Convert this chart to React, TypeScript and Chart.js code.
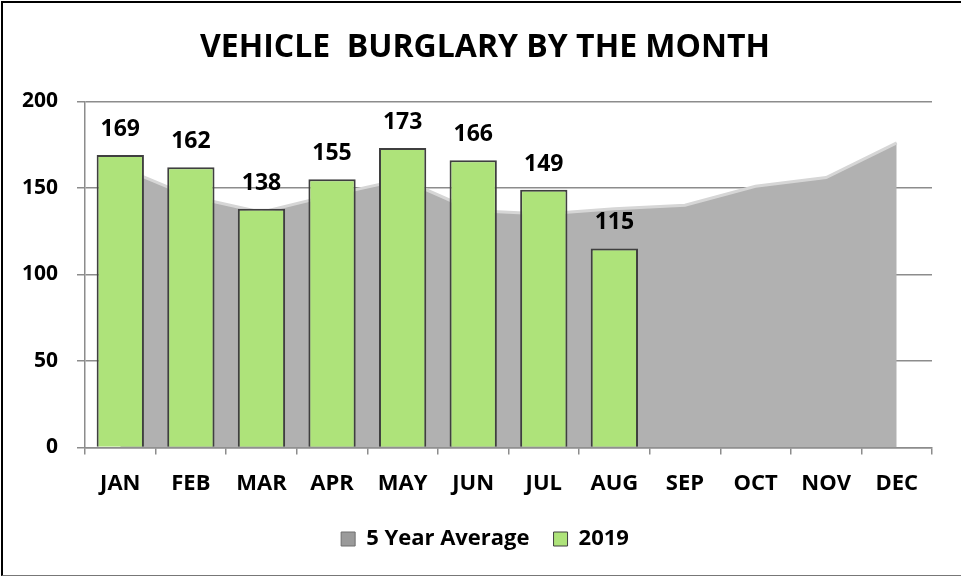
import React, { useEffect, useRef } from 'react';
import { Chart, registerables } from 'chart.js';

Chart.register(...registerables);

const months = ['JAN', 'FEB', 'MAR', 'APR', 'MAY', 'JUN', 'JUL', 'AUG', 'SEP', 'OCT', 'NOV', 'DEC'];
const fiveYearAverage = [162, 145, 136, 146, 155, 137, 135, 138, 140, 151, 156, 176];
const values2019 = [169, 162, 138, 155, 173, 166, 149, 115];
const yMin = 0;
const yMax = 200;
const yStep = 50;
const titleText = 'VEHICLE  BURGLARY BY THE MONTH';
const seriesNames = ['5 Year Average', '2019'];

const FONT = '"Open Sans", Lato, sans-serif';
const GRID = '#8c8c8c';

const barLabels = {
  id: 'barLabels',
  afterDatasetsDraw(chart: any) {
    const ctx = chart.ctx;
    const meta = chart.getDatasetMeta(1);
    ctx.save();
    ctx.font = `bold 23px ${FONT}`;
    ctx.fillStyle = '#000';
    ctx.textAlign = 'center';
    ctx.textBaseline = 'alphabetic';
    meta.data.forEach((bar: any, i: number) => {
      const v = values2019[i];
      if (v == null) return;
      ctx.fillText(String(v), bar.x, bar.y - 19);
    });
    ctx.restore();
  },
};

export default function App() {
  const ref = useRef<HTMLCanvasElement | null>(null);

  useEffect(() => {
    if (!ref.current) return;
    const chart = new Chart(ref.current, {
      type: 'bar',
      data: {
        labels: months,
        datasets: [
          {
            type: 'line',
            label: seriesNames[0],
            data: fiveYearAverage,
            fill: 'origin',
            backgroundColor: '#b1b1b1',
            borderColor: '#d6d6d6',
            borderWidth: 3,
            pointRadius: 0,
            tension: 0,
            order: 2,
          } as any,
          {
            type: 'bar',
            label: seriesNames[1],
            data: values2019,
            backgroundColor: '#aee37a',
            borderColor: '#3f3f3f',
            borderWidth: 2,
            barPercentage: 0.67,
            categoryPercentage: 1,
            order: 1,
          },
        ],
      },
      options: {
        responsive: false,
        animation: false,
        layout: { padding: { left: 9, right: 0, top: 29, bottom: 18 } },
        plugins: {
          tooltip: { enabled: false },
          title: {
            display: true,
            text: titleText,
            color: '#000',
            font: { family: FONT, size: 32, weight: 'bold' },
            padding: { top: 0, bottom: 34 },
          },
          legend: {
            position: 'bottom',
            labels: {
              color: '#000',
              font: { family: FONT, size: 22, weight: 'bold' },
              boxWidth: 14,
              boxHeight: 14,
              padding: 24,
              sort: (a: any, b: any) => a.datasetIndex - b.datasetIndex,
              generateLabels: (chart: any) => {
                const items = Chart.defaults.plugins.legend.labels.generateLabels(chart);
                return items.map((it: any) => {
                  if (it.datasetIndex === 0) {
                    return { ...it, fillStyle: '#9a9a9a', strokeStyle: '#6e6e6e', lineWidth: 1 };
                  }
                  return { ...it, fillStyle: '#aee37a', strokeStyle: '#3f3f3f', lineWidth: 1 };
                });
              },
            },
          },
        },
        scales: {
          x: {
            offset: true,
            afterFit: (scale: any) => {
              scale.height = 56.5;
            },
            grid: {
              display: true,
              offset: true,
              drawOnChartArea: false,
              drawTicks: true,
              tickLength: 7,
              color: GRID,
              lineWidth: 1.5,
            },
            border: { display: true, color: GRID, width: 1.5 },
            ticks: {
              color: '#000',
              padding: 16,
              font: { family: FONT, size: 22, weight: 'bold' },
              maxRotation: 0,
            },
          },
          y: {
            min: yMin,
            max: yMax,
            afterFit: (scale: any) => {
              scale.width = 76;
            },
            grid: {
              color: GRID,
              lineWidth: 1.5,
              drawTicks: true,
              tickLength: 8,
            },
            border: { display: true, color: GRID, width: 1.5 },
            ticks: {
              stepSize: yStep,
              color: '#000',
              padding: 19,
              font: { family: FONT, size: 21, weight: 'bold' },
            },
          },
          yRight: {
            type: 'linear',
            position: 'right',
            min: 0,
            max: 1,
            afterFit: (scale: any) => {
              scale.width = 29;
            },
            grid: { display: false, drawTicks: false },
            border: { display: false },
            ticks: { display: false },
          },
        },
      },
      plugins: [barLabels],
    });
    return () => chart.destroy();
  }, []);

  return (
    <div style={{ position: 'fixed', left: 0, top: 0, width: 961, height: 578, background: '#fff' }}>
      <div
        style={{
          position: 'absolute',
          left: 1,
          top: 1,
          width: 962,
          height: 575,
          borderLeft: '2px solid #000',
          borderTop: '2px solid #000',
          borderBottom: '1px solid #777',
          boxSizing: 'border-box',
        }}
      />
      <canvas ref={ref} width={961} height={578} style={{ position: 'absolute', left: 0, top: 0 }} />
    </div>
  );
}
